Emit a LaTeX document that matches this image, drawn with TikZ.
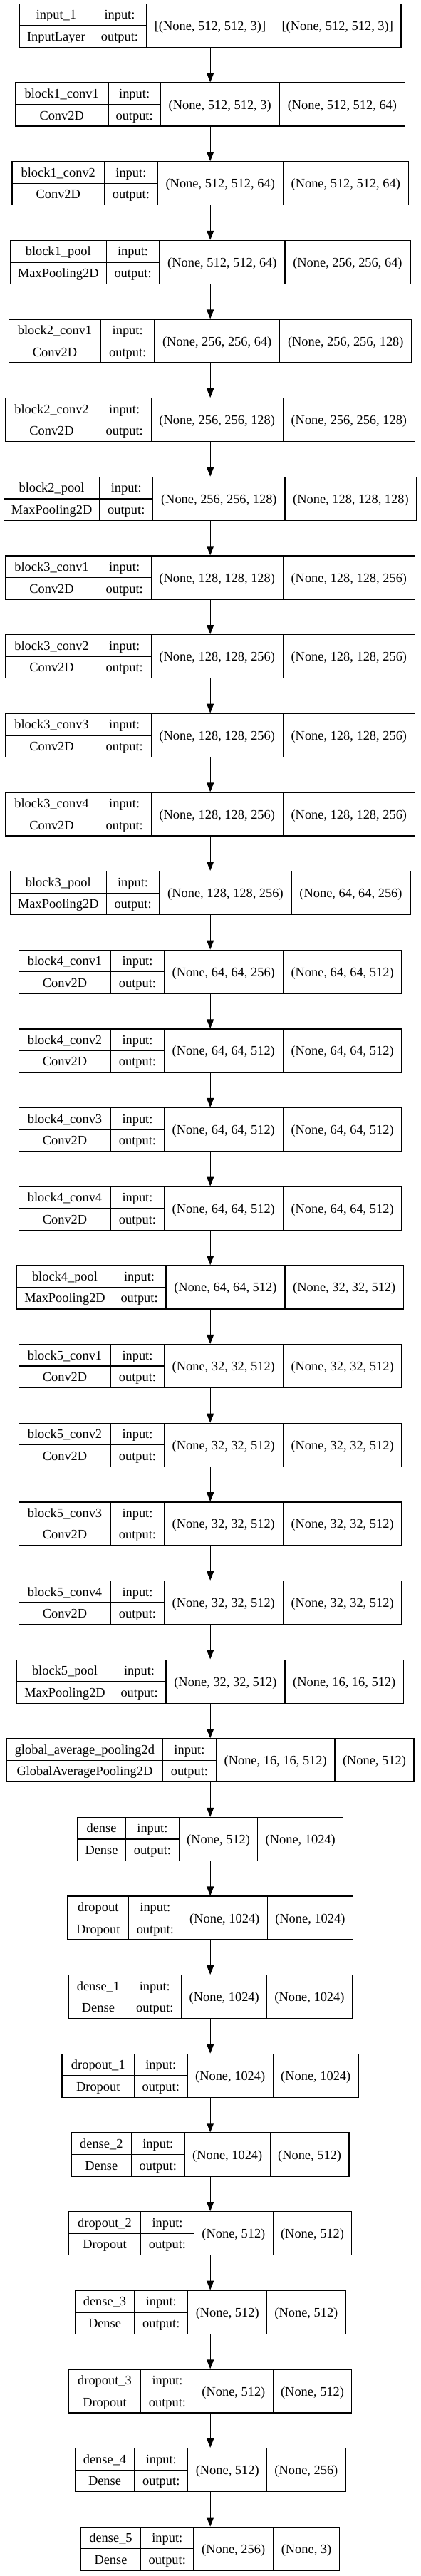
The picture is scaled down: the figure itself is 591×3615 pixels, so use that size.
\documentclass[tikz,border=0pt]{standalone}
\usepackage{fontspec}
\setmainfont{Liberation Serif}
\usetikzlibrary{arrows.meta}
\tikzset{
  layerbox/.style={draw=black, line width=1.3pt, rectangle, inner sep=0pt, minimum height=61pt},
  cellline/.style={draw=black, line width=1.3pt},
  lbl/.style={anchor=base, inner sep=0pt, font=\fontsize{18.4}{22}\selectfont, text=black},
  conn/.style={draw=black, line width=1.3pt, -{Triangle[length=13pt,width=10pt]}},
}
% #1 index, #2 name, #3 class, #4 input shape, #5 output shape, #6..#9 left edge and cell splits
\newcommand\layer[9]{%
  \pgfmathsetmacro\Ytop{5.5+110.65*#1}%
  \pgfmathsetmacro\Ybot{\Ytop+61}%
  \pgfmathsetmacro\Ymid{\Ytop+30.5}%
  \pgfmathsetmacro\Xr{590.3-#6}%
  \pgfmathsetmacro\W{\Xr-#6}%
  \node[layerbox, minimum width=\W pt] (L#1) at (295.15,\Ymid) {};
  \draw[cellline] (#7,\Ytop) -- (#7,\Ybot) (#8,\Ytop) -- (#8,\Ybot) (#9,\Ytop) -- (#9,\Ybot) (#6,\Ymid) -- (#8,\Ymid);
  \node[lbl] (L#1name) at ({(#6+#7)/2},{\Ytop+21.5}) {#2};
  \node[lbl] (L#1class) at ({(#6+#7)/2},{\Ytop+52}) {#3};
  \node[lbl] (L#1inl) at ({(#7+#8)/2},{\Ytop+21.5}) {input:};
  \node[lbl] (L#1outl) at ({(#7+#8)/2},{\Ytop+52}) {output:};
  \node[lbl] (L#1ins) at ({(#8+#9)/2},{\Ytop+37}) {#4};
  \node[lbl] (L#1outs) at ({(#9+\Xr)/2},{\Ytop+37}) {#5};
}
\begin{document}
\begin{tikzpicture}[x=1pt,y=-1pt]
\fill[white] (0,0) rectangle (591,3615);
\useasboundingbox (0,0) rectangle (591,3615);
\layer{0}{input\_1}{InputLayer}{[(None, 512, 512, 3)]}{[(None, 512, 512, 3)]}{27.3}{130.5}{205.5}{384.5}
\layer{1}{block1\_conv1}{Conv2D}{(None, 512, 512, 3)}{(None, 512, 512, 64)}{21.5}{151.9}{225.4}{392.0}
\layer{2}{block1\_conv2}{Conv2D}{(None, 512, 512, 64)}{(None, 512, 512, 64)}{17.0}{146.6}{221.2}{397.3}
\layer{3}{block1\_pool}{MaxPooling2D}{(None, 512, 512, 64)}{(None, 256, 256, 64)}{14.3}{149.3}{223.9}{399.9}
\layer{4}{block2\_conv1}{Conv2D}{(None, 256, 256, 64)}{(None, 256, 256, 128)}{12.4}{141.7}{216.7}{392.7}
\layer{5}{block2\_conv2}{Conv2D}{(None, 256, 256, 128)}{(None, 256, 256, 128)}{7.9}{137.2}{212.2}{397.3}
\layer{6}{block2\_pool}{MaxPooling2D}{(None, 256, 256, 128)}{(None, 128, 128, 128)}{5.3}{139.8}{214.8}{399.9}
\layer{7}{block3\_conv1}{Conv2D}{(None, 128, 128, 128)}{(None, 128, 128, 256)}{7.9}{137.2}{212.2}{397.3}
\layer{8}{block3\_conv2}{Conv2D}{(None, 128, 128, 256)}{(None, 128, 128, 256)}{7.9}{137.2}{212.2}{397.3}
\layer{9}{block3\_conv3}{Conv2D}{(None, 128, 128, 256)}{(None, 128, 128, 256)}{7.9}{137.2}{212.2}{397.3}
\layer{10}{block3\_conv4}{Conv2D}{(None, 128, 128, 256)}{(None, 128, 128, 256)}{7.9}{137.2}{212.2}{397.3}
\layer{11}{block3\_pool}{MaxPooling2D}{(None, 128, 128, 256)}{(None, 64, 64, 256)}{14.3}{149.3}{223.9}{409.0}
\layer{12}{block4\_conv1}{Conv2D}{(None, 64, 64, 256)}{(None, 64, 64, 512)}{26.4}{155.7}{230.3}{397.3}
\layer{13}{block4\_conv2}{Conv2D}{(None, 64, 64, 512)}{(None, 64, 64, 512)}{26.4}{155.7}{230.3}{397.3}
\layer{14}{block4\_conv3}{Conv2D}{(None, 64, 64, 512)}{(None, 64, 64, 512)}{26.4}{155.7}{230.3}{397.3}
\layer{15}{block4\_conv4}{Conv2D}{(None, 64, 64, 512)}{(None, 64, 64, 512)}{26.4}{155.7}{230.3}{397.3}
\layer{16}{block4\_pool}{MaxPooling2D}{(None, 64, 64, 512)}{(None, 32, 32, 512)}{23.7}{158.3}{232.9}{399.9}
\layer{17}{block5\_conv1}{Conv2D}{(None, 32, 32, 512)}{(None, 32, 32, 512)}{26.4}{155.7}{230.3}{397.3}
\layer{18}{block5\_conv2}{Conv2D}{(None, 32, 32, 512)}{(None, 32, 32, 512)}{26.4}{155.7}{230.3}{397.3}
\layer{19}{block5\_conv3}{Conv2D}{(None, 32, 32, 512)}{(None, 32, 32, 512)}{26.4}{155.7}{230.3}{397.3}
\layer{20}{block5\_conv4}{Conv2D}{(None, 32, 32, 512)}{(None, 32, 32, 512)}{26.4}{155.7}{230.3}{397.3}
\layer{21}{block5\_pool}{MaxPooling2D}{(None, 32, 32, 512)}{(None, 16, 16, 512)}{23.7}{158.3}{232.9}{399.9}
\layer{22}{global\_average\_pooling2d}{GlobalAveragePooling2D}{(None, 16, 16, 512)}{(None, 512)}{9.4}{228.4}{303.4}{470.0}
\layer{23}{dense}{Dense}{(None, 512)}{(None, 1024)}{108.6}{176.4}{251.4}{361.8}
\layer{24}{dropout}{Dropout}{(None, 1024)}{(None, 1024)}{95.0}{180.5}{255.2}{375.4}
\layer{25}{dense\_1}{Dense}{(None, 1024)}{(None, 1024)}{96.1}{179.8}{254.8}{374.7}
\layer{26}{dropout\_1}{Dropout}{(None, 1024)}{(None, 1024)}{87.1}{188.5}{263.1}{383.3}
\layer{27}{dense\_2}{Dense}{(None, 1024)}{(None, 512)}{100.3}{184.3}{259.3}{379.2}
\layer{28}{dropout\_2}{Dropout}{(None, 512)}{(None, 512)}{96.5}{197.5}{272.5}{383.3}
\layer{29}{dense\_3}{Dense}{(None, 512)}{(None, 512)}{105.2}{188.8}{263.8}{374.7}
\layer{30}{dropout\_3}{Dropout}{(None, 512)}{(None, 512)}{96.5}{197.5}{272.5}{383.3}
\layer{31}{dense\_4}{Dense}{(None, 512)}{(None, 256)}{105.2}{188.8}{263.8}{374.7}
\layer{32}{dense\_5}{Dense}{(None, 256)}{(None, 3)}{113.5}{197.5}{272.1}{383.3}
\foreach \i [evaluate=\i as \j using int(\i+1)] in {0,...,31} {
  \draw[conn] (L\i.south) -- (L\j.north);
}
\end{tikzpicture}
\end{document}
